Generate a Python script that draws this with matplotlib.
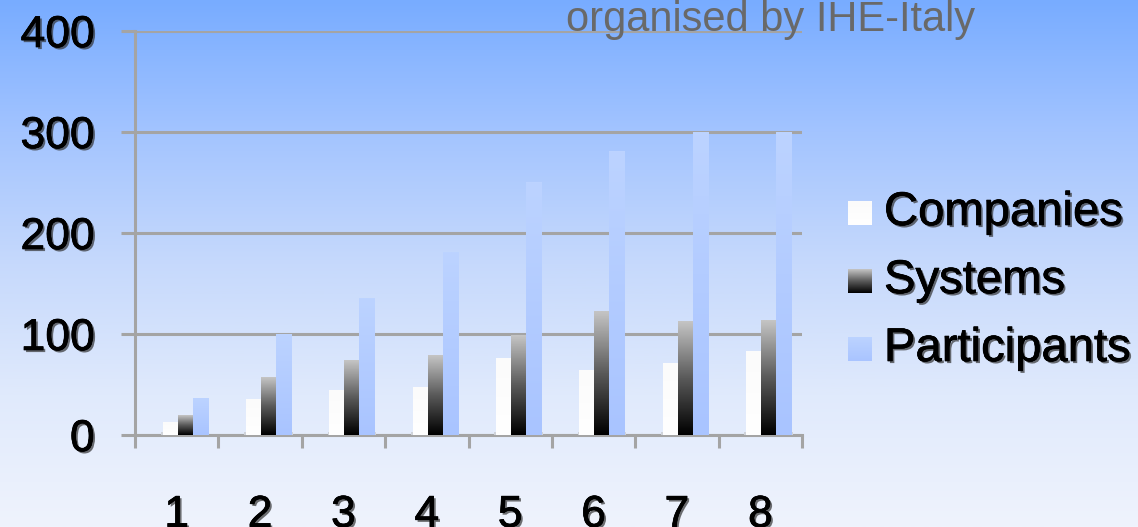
import numpy as np
import matplotlib
matplotlib.use('Agg')
from matplotlib import pyplot as plt
from matplotlib import patheffects as pe
from matplotlib.colors import LinearSegmentedColormap

# 数据
categories = ['1', '2', '3', '4', '5', '6', '7', '8']
companies = [12, 35, 44, 47, 76, 64, 71, 83]
systems = [19, 57, 74, 79, 99, 122, 112, 113]
participants = [36, 100, 135, 181, 250, 281, 300, 300]
series_names = ['Companies', 'Systems', 'Participants']
y_ticks = [0, 100, 200, 300, 400]

plt.rcParams['font.family'] = ['Liberation Sans', 'DejaVu Sans']

fig = plt.figure(figsize=(11.38, 5.27), dpi=100)

# 背景渐变
bg = fig.add_axes([0, 0, 1, 1], zorder=-10)
bg_cmap = LinearSegmentedColormap.from_list('bg', [
    (0.0, '#78acff'), (0.25, '#a3c4ff'), (0.5, '#c6d9fc'),
    (0.75, '#e0eafc'), (1.0, '#eff3fd')])
bg.imshow(np.linspace(0, 1, 256).reshape(-1, 1), cmap=bg_cmap, aspect='auto',
          extent=[0, 1, 1, 0])
bg.set_axis_off()

ax = fig.add_axes([135 / 1138, 1 - 435 / 527, 667 / 1138, 404 / 527])
ax.patch.set_alpha(0)

grey = '#a4a4a4'
n = len(categories)
x = np.arange(n) + 0.5
w = 0.18
off = 0.1

sys_cmap = LinearSegmentedColormap.from_list('sys', ['#000000', '#5a5a5a', '#c4c4c4'])
par_cmap = LinearSegmentedColormap.from_list('par', ['#a9c4ff', '#bcd3ff'])
com_cmap = LinearSegmentedColormap.from_list('com', ['#ffffff', '#fbfbfb'])
cmaps = [com_cmap, sys_cmap, par_cmap]
grad = np.linspace(0, 1, 100).reshape(-1, 1)

# 底座
ax.bar(x + off, 3, width=3 * w + 0.04, bottom=0, color='#cfd3da', zorder=3)

for i, vals in enumerate([companies, systems, participants]):
    xs = x + off + (i - 1) * w
    bars = ax.bar(xs, vals, width=w, color='none', zorder=4)
    for b in bars:
        bx, bw, bh = b.get_x(), b.get_width(), b.get_height()
        ax.imshow(grad, cmap=cmaps[i], aspect='auto', origin='lower',
                  extent=[bx, bx + bw, 0, bh], zorder=4)

ax.set_xlim(0, n)
ax.set_ylim(0, 400)

for s in ['top', 'right']:
    ax.spines[s].set_visible(False)
for s in ['left', 'bottom']:
    ax.spines[s].set_color(grey)
    ax.spines[s].set_linewidth(2.2)

ax.yaxis.grid(True, color=grey, linewidth=2.2, zorder=1)
ax.set_axisbelow(True)
ax.set_yticks(y_ticks)
ax.tick_params(axis='y', length=10, width=2.2, color=grey, pad=19, labelsize=32)

ax.set_xticks(x)
ax.set_xticklabels(categories)
ax.set_xticks(np.arange(n + 1), minor=True)
ax.tick_params(axis='x', which='major', length=0, pad=43, labelsize=32)
ax.tick_params(axis='x', which='minor', length=9, width=2.2, color=grey)

shadow = [pe.withSimplePatchShadow(offset=(1.5, -1.5), shadow_rgbFace='#333333', alpha=0.7),
          pe.Stroke(linewidth=0.5, foreground='black'), pe.Normal()]
for lab in ax.get_xticklabels() + ax.get_yticklabels():
    lab.set_path_effects(shadow)

# 图例
for i, name in enumerate(series_names):
    yc = 1 - (213 + 68 * i) / 527
    sw = fig.add_axes([848 / 1138, yc - 12 / 527, 24 / 1138, 24 / 527])
    sw.imshow(grad, cmap=cmaps[i], aspect='auto', origin='lower', extent=[0, 1, 0, 1])
    sw.set_axis_off()
    t = fig.text(884 / 1138, yc, name, fontsize=34, va='center', ha='left')
    t.set_path_effects(shadow)

fig.text(771 / 1138, 1 - 31 / 527, 'organised by IHE-Italy', fontsize=30,
         color='#696969', ha='center', va='baseline', zorder=20)

fig.savefig('out.png', dpi=100)
